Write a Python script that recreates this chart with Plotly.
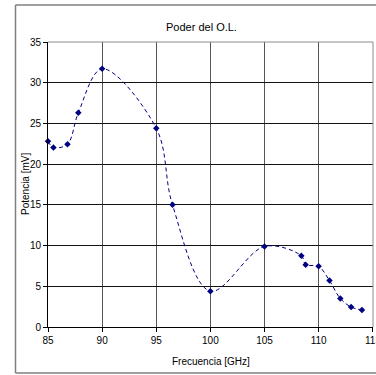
import plotly.graph_objects as go

freq_ghz = [85.0, 85.5, 86.8, 87.8, 90.0, 95.0, 96.5, 100.0, 105.0, 108.4, 108.8, 110.0, 111.0, 112.0, 113.0, 114.0]
power_mv = [22.8, 22.05, 22.45, 26.3, 31.7, 24.4, 15.0, 4.4, 9.9, 8.75, 7.65, 7.45, 5.7, 3.5, 2.45, 2.1]
x_ticks = [85, 90, 95, 100, 105, 110, 115]

title_text = "Poder del O.L."
x_title = "Frecuencia [GHz]"
y_title = "Potencia [mV]"

W, H = 376, 375
L, R, T, B = 48, 3, 42, 48
pw, ph = W - L - R, H - T - B

FONT = "Liberation Sans Narrow, Arial Narrow, Liberation Sans, Arial, sans-serif"

fig = go.Figure()
fig.add_trace(go.Scatter(
    x=freq_ghz, y=power_mv, mode="lines+markers",
    line=dict(color="#000080", width=1, dash="4px,3px", shape="spline", smoothing=1.0),
    marker=dict(symbol="diamond", size=5, color="#000080"),
    showlegend=False, cliponaxis=False,
))

def px_x(px):
    return (px - L) / pw

def px_y(py):
    return (H - B - py) / ph

border = dict(color="#7f7f7f", width=1.5)
shapes = [
    # outer chart border (left, top, bottom; the right side is cut off)
    dict(type="line", xref="paper", yref="paper", x0=px_x(15.5), x1=px_x(15.5),
         y0=px_y(373), y1=px_y(5), line=border, layer="above"),
    dict(type="line", xref="paper", yref="paper", x0=px_x(15.5), x1=px_x(376),
         y0=px_y(5), y1=px_y(5), line=border, layer="above"),
    dict(type="line", xref="paper", yref="paper", x0=px_x(15.5), x1=px_x(376),
         y0=px_y(373), y1=px_y(373), line=border, layer="above"),
    # top and right plot border in gray
    dict(type="line", xref="paper", yref="paper", x0=0, x1=1, y0=1, y1=1,
         line=dict(color="#8c8c8c", width=1), layer="above"),
    dict(type="line", xref="paper", yref="paper", x0=1, x1=1, y0=0, y1=1,
         line=dict(color="#8c8c8c", width=1), layer="above"),
]

annotations = [
    dict(text=title_text, xref="paper", yref="paper", x=px_x(201), y=px_y(27),
         xanchor="center", yanchor="middle", showarrow=False,
         font=dict(family=FONT, size=11)),
    dict(text=x_title, xref="paper", yref="paper", x=px_x(211), y=px_y(361),
         xanchor="center", yanchor="middle", showarrow=False,
         font=dict(family=FONT, size=10)),
    dict(text=y_title, xref="paper", yref="paper", x=px_x(25), y=px_y(184),
         xanchor="center", yanchor="middle", showarrow=False, textangle=-90,
         font=dict(family=FONT, size=10)),
    # last tick label, partly cut off by the page edge as in the original
    dict(text=str(x_ticks[-1]), xref="x", yref="paper", x=x_ticks[-1], y=px_y(333),
         xanchor="center", yanchor="top", showarrow=False,
         font=dict(family=FONT, size=10)),
]

fig.update_layout(
    width=W, height=H,
    margin=dict(l=L, r=R, t=T, b=B, autoexpand=False),
    paper_bgcolor="white", plot_bgcolor="white",
    font=dict(family=FONT, size=10, color="#000000"),
    shapes=shapes,
    annotations=annotations,
    xaxis=dict(
        range=[85, 115.02], tickmode="array", tickvals=x_ticks,
        ticktext=[str(v) for v in x_ticks], automargin=False,
        showgrid=True, gridcolor="#555555", gridwidth=1,
        showline=True, linecolor="#000000", linewidth=1,
        ticks="outside", ticklen=4, tickcolor="#000000",
        tickfont=dict(family=FONT, size=10),
        zeroline=False,
    ),
    yaxis=dict(
        range=[0, 35], dtick=5, tick0=0, automargin=False,
        showgrid=True, gridcolor="#111111", gridwidth=1,
        showline=True, linecolor="#000000", linewidth=1,
        ticks="outside", ticklen=4, tickcolor="#000000",
        tickfont=dict(family=FONT, size=10),
        zeroline=False,
    ),
)

fig.write_html(
    "out.html",
    config={"displayModeBar": False},
    post_script="document.body.style.margin='0';document.body.style.overflow='hidden';",
)
